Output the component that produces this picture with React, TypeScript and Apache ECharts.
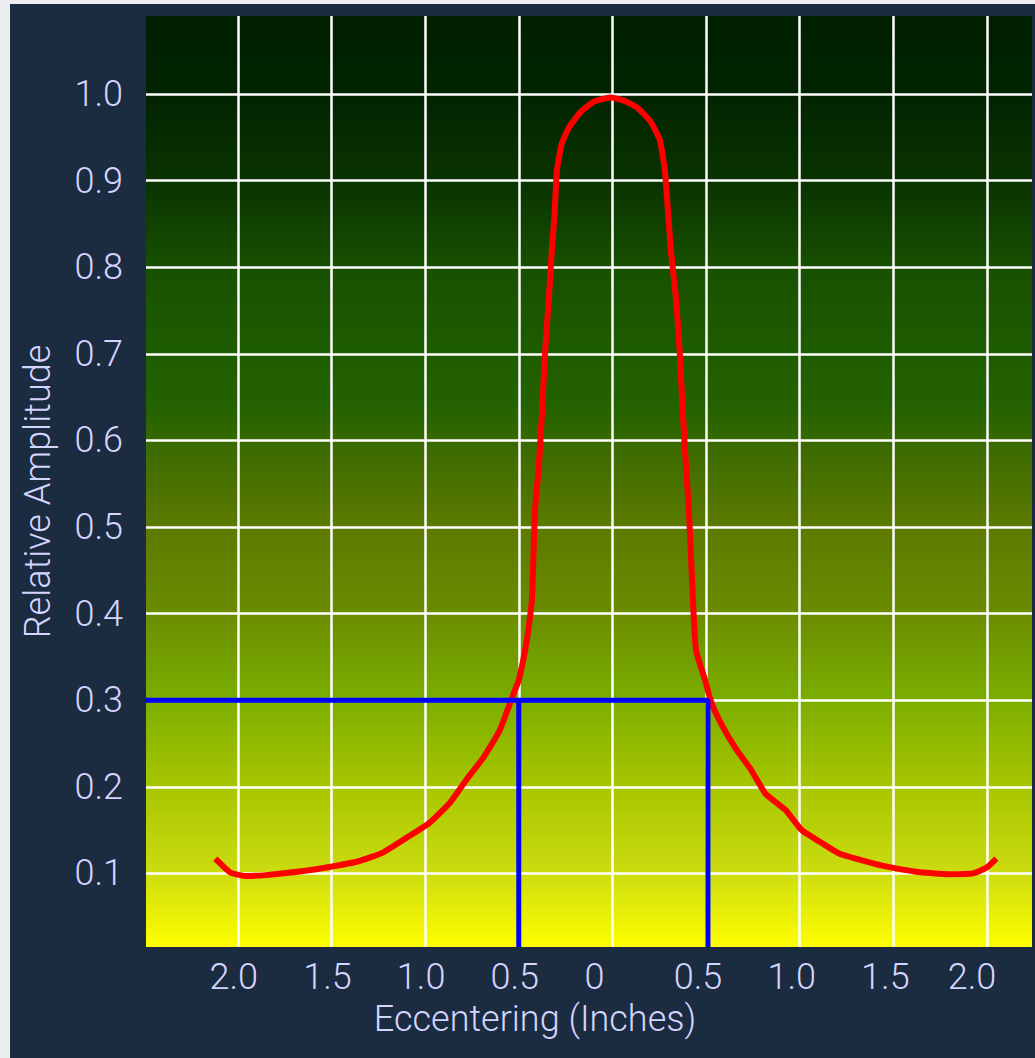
import React, { useEffect, useRef } from "react";
import * as echarts from "echarts";

// Red curve: eccentering (inches, signed) vs relative amplitude
const curveX = [
  -2.12, -2.04, -1.96, -1.85, -1.64, -1.52, -1.355, -1.226, -1.1, -0.978, -0.87, -0.78, -0.688,
  -0.602, -0.527, -0.5, -0.457, -0.43, -0.414, -0.392, -0.376, -0.36, -0.339, -0.323, -0.31,
  -0.296, -0.27, -0.23, -0.17, -0.1, -0.01, 0.065, 0.134, 0.204, 0.253, 0.28, 0.296, 0.312, 0.339,
  0.36, 0.376, 0.392, 0.409, 0.43, 0.446, 0.495, 0.527, 0.58, 0.656, 0.742, 0.817, 0.925, 1.01,
  1.118, 1.21, 1.333, 1.44, 1.62, 1.8, 1.925, 2.0, 2.05,
];
const curveY = [
  0.117, 0.101, 0.097, 0.098, 0.103, 0.107, 0.114, 0.124, 0.141, 0.158, 0.181, 0.208, 0.234,
  0.265, 0.308, 0.323, 0.369, 0.415, 0.516, 0.573, 0.631, 0.7, 0.765, 0.82, 0.858,
  0.912, 0.943, 0.962, 0.979, 0.991, 0.996, 0.992, 0.984, 0.968, 0.947, 0.912, 0.866, 0.82, 0.765,
  0.7, 0.631, 0.573, 0.516, 0.415, 0.358, 0.323, 0.298, 0.273, 0.245, 0.219, 0.192, 0.173, 0.15,
  0.135, 0.123, 0.115, 0.109, 0.102, 0.099, 0.1, 0.107, 0.117,
];

// Blue guide lines at 0.3 relative amplitude
const guideLevel = 0.3;
const guideLeftX = -0.5;
const guideRightX = 0.51;

const xMin = -2.49;
const xMax = 2.24;
const yMin = 0.015;
const yMax = 1.09;

const xAxisTitle = "Eccentering (Inches)";
const yAxisTitle = "Relative Amplitude";

export default function App() {
  const ref = useRef<HTMLDivElement>(null);
  useEffect(() => {
    if (!ref.current) return;
    const chart = echarts.init(ref.current, undefined, { renderer: "svg" });
    const labelColor = "#d4d4ff";
    const font = "Roboto, 'Liberation Sans', Arial, sans-serif";
    const tok = (pad: number) => ({
      color: labelColor,
      fontFamily: font,
      fontWeight: 300,
      fontSize: 36,
      padding: [0, pad, 0, 0],
    });
    chart.setOption({
      animation: false,
      backgroundColor: "#eceef2",
      graphic: [
        {
          type: "rect",
          z: -10,
          shape: { x: 10, y: 4, width: 1025, height: 1054 },
          style: { fill: "#1b2b40" },
          silent: true,
        },
      ],
      grid: {
        left: 146,
        top: 16,
        right: 3,
        bottom: 111,
        show: true,
        borderWidth: 0,
        backgroundColor: new echarts.graphic.LinearGradient(0, 0, 0, 1, [
          { offset: 0, color: "#002000" },
          { offset: 0.085, color: "#022400" },
          { offset: 0.18, color: "#0a3400" },
          { offset: 0.27, color: "#185000" },
          { offset: 0.36, color: "#1e5c00" },
          { offset: 0.42, color: "#246200" },
          { offset: 0.47, color: "#3e6c00" },
          { offset: 0.55, color: "#5c7a00" },
          { offset: 0.64, color: "#6a8c00" },
          { offset: 0.73, color: "#7aac00" },
          { offset: 0.82, color: "#a4c400" },
          { offset: 0.92, color: "#ccdc10" },
          { offset: 1, color: "#ffff00" },
        ]),
      },
      xAxis: {
        type: "value",
        min: xMin,
        max: xMax,
        minInterval: 0.5,
        maxInterval: 0.5,
        axisLine: { show: false },
        axisTick: { show: false },
        splitLine: {
          show: true,
          showMinLine: false,
          showMaxLine: false,
          lineStyle: { color: "#ffffff", width: 2.5 },
        },
        axisLabel: {
          showMinLabel: false,
          showMaxLabel: false,
          margin: 12,
          color: labelColor,
          fontFamily: font,
          fontWeight: 300,
          fontSize: 36,
          formatter: (v: number) => {
            const a = Math.abs(v);
            if (a < 1e-6) return "{z|0}";
            const t = a.toFixed(1);
            if (v < 0) return "{l|" + t + "}";
            if (v > 1.9) return "{e|" + t + "}";
            return "{r|" + t + "}";
          },
          rich: { z: tok(36), l: tok(8), r: tok(16), e: tok(30) },
        },
        name: xAxisTitle,
        nameLocation: "middle",
        nameGap: 54,
        nameTextStyle: {
          color: labelColor,
          fontFamily: font,
          fontWeight: 300,
          fontSize: 36,
          padding: [0, 108, 0, 0],
        },
      },
      yAxis: {
        type: "value",
        min: yMin,
        max: yMax,
        minInterval: 0.1,
        maxInterval: 0.1,
        axisLine: { show: false },
        axisTick: { show: false },
        splitLine: {
          show: true,
          showMinLine: false,
          showMaxLine: false,
          lineStyle: { color: "#ffffff", width: 2.5 },
        },
        axisLabel: {
          showMinLabel: false,
          showMaxLabel: false,
          margin: 23,
          color: labelColor,
          fontFamily: font,
          fontWeight: 300,
          fontSize: 36,
          formatter: (v: number) => v.toFixed(1),
        },
        name: yAxisTitle,
        nameLocation: "middle",
        nameGap: 90,
        nameTextStyle: {
          color: labelColor,
          fontFamily: font,
          fontWeight: 300,
          fontSize: 36,
          padding: [0, 20, 0, 0],
        },
      },
      series: [
        {
          type: "line",
          data: curveX.map((x, i) => [x, curveY[i]]),
          showSymbol: false,
          smooth: 0.15,
          lineStyle: { color: "#ff0000", width: 6 },
          z: 3,
        },
        {
          type: "line",
          data: [
            [xMin, guideLevel],
            [guideRightX, guideLevel],
            [guideRightX, yMin],
          ],
          showSymbol: false,
          lineStyle: { color: "#0000ff", width: 5 },
          z: 4,
        },
        {
          type: "line",
          data: [
            [guideLeftX, guideLevel],
            [guideLeftX, yMin],
          ],
          showSymbol: false,
          lineStyle: { color: "#0000ff", width: 5 },
          z: 4,
        },
      ],
    });
    return () => chart.dispose();
  }, []);
  return (
    <div
      ref={ref}
      style={{ position: "fixed", left: 0, top: 0, width: 1035, height: 1058 }}
    />
  );
}
